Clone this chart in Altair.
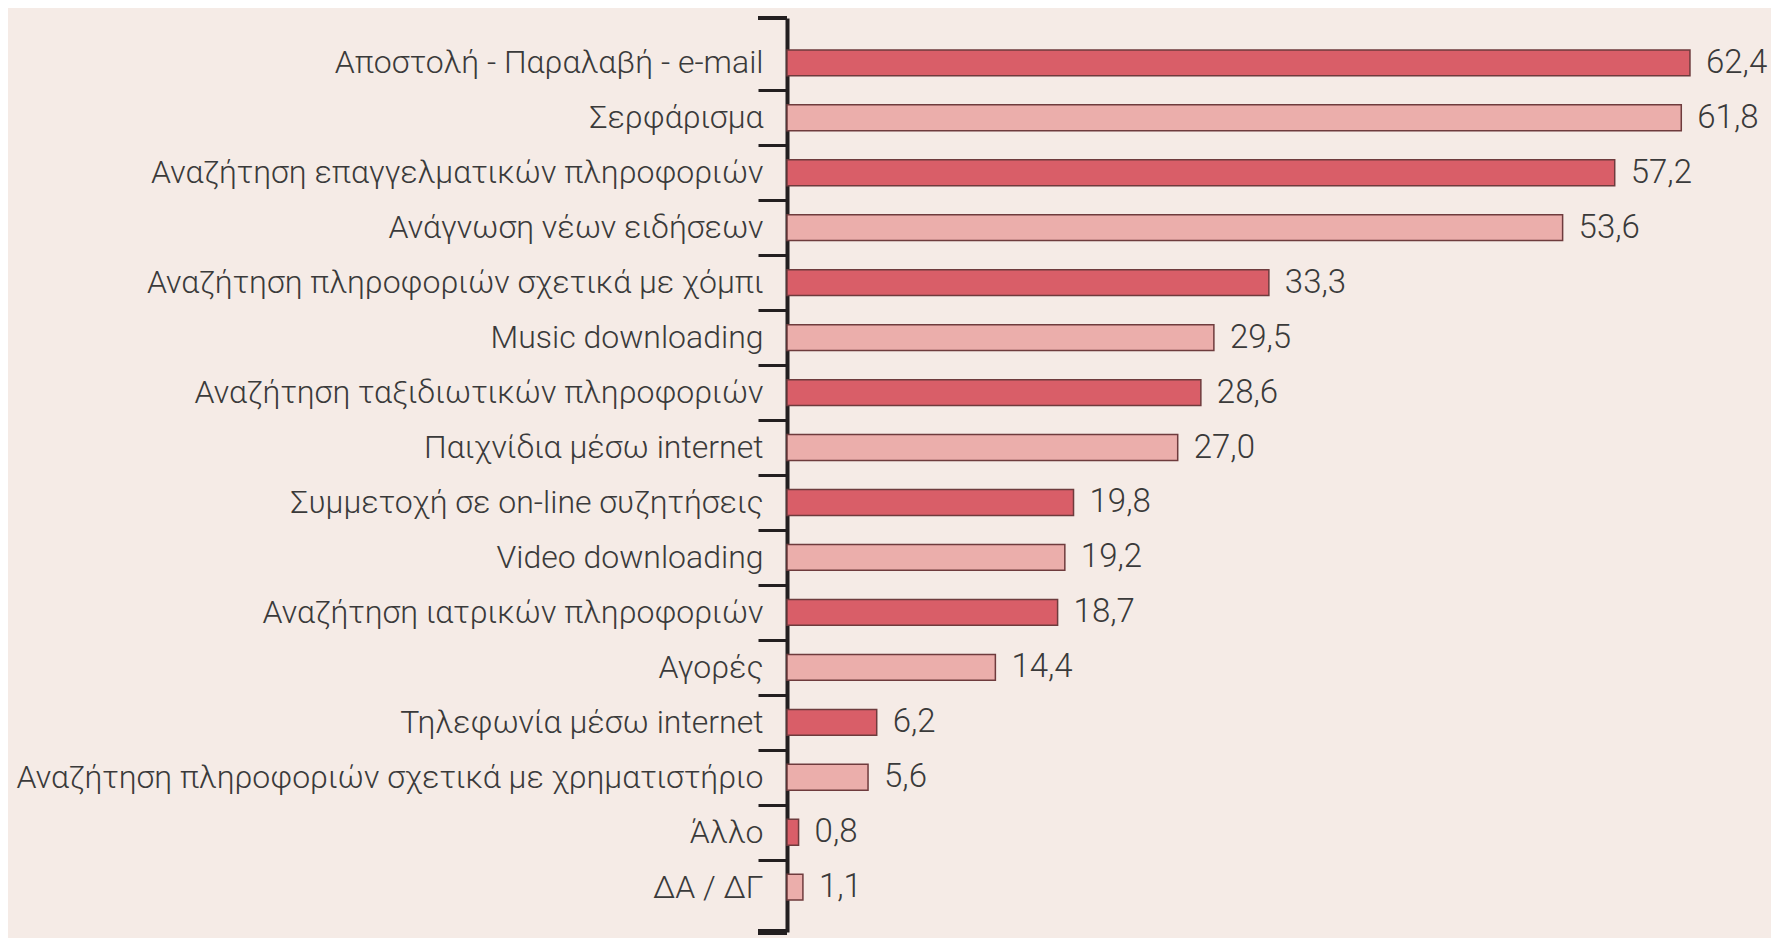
import altair as alt
import pandas as pd

categories = [
    "Αποστολή - Παραλαβή - e-mail",
    "Σερφάρισμα",
    "Αναζήτηση επαγγελματικών πληροφοριών",
    "Ανάγνωση νέων ειδήσεων",
    "Αναζήτηση πληροφοριών σχετικά με χόμπι",
    "Music downloading",
    "Αναζήτηση ταξιδιωτικών πληροφοριών",
    "Παιχνίδια μέσω internet",
    "Συμμετοχή σε on-line συζητήσεις",
    "Video downloading",
    "Αναζήτηση ιατρικών πληροφοριών",
    "Αγορές",
    "Τηλεφωνία μέσω internet",
    "Αναζήτηση πληροφοριών σχετικά με χρηματιστήριο",
    "Άλλο",
    "ΔΑ / ΔΓ",
]
values = [62.4, 61.8, 57.2, 53.6, 33.3, 29.5, 28.6, 27.0, 19.8, 19.2, 18.7, 14.4, 6.2, 5.6, 0.8, 1.1]
shades = ["dark", "light"] * 8

df = pd.DataFrame({
    "cat": categories,
    "val": values,
    "shade": shades,
    "label": [f"{v:.1f}".replace(".", ",") for v in values],
})

FONT = "Roboto"
TXT = "#3a3a3a"
AX = "#231f20"

y_enc = alt.Y(
    "cat:N",
    sort=categories,
    title=None,
    scale=alt.Scale(paddingInner=0.53, paddingOuter=0.58),
    axis=alt.Axis(
        labelFont=FONT,
        labelFontSize=32,
        labelFontWeight=300,
        labelColor=TXT,
        labelLimit=0,
        labelPadding=-5,
        tickSize=29,
        tickWidth=3,
        tickColor=AX,
        tickOffset=-27.5,
        labelOffset=27.5,
        tickOpacity={"condition": {"test": f"datum.value == '{categories[0]}'", "value": 0}, "value": 1},
        domainColor=AX,
        domainWidth=4,
    ),
)

bars = alt.Chart(df).mark_bar(stroke="#6e3b3d", strokeWidth=1.5).encode(
    y=y_enc,
    x=alt.X("val:Q", scale=alt.Scale(domain=[0, 68], nice=False), axis=None),
    color=alt.Color(
        "shade:N",
        scale=alt.Scale(domain=["dark", "light"], range=["#d95e68", "#ebaeab"]),
        legend=None,
    ),
)

texts = alt.Chart(df).mark_text(
    align="left", baseline="middle", dx=16, font=FONT, fontSize=33, fontWeight=300, color=TXT
).encode(
    y=alt.Y("cat:N", sort=categories),
    x=alt.X("val:Q"),
    text="label:N",
)

cap_top = alt.Chart(df).mark_rule(color=AX, strokeWidth=4).encode(
    x=alt.value(-29), x2=alt.value(0), y=alt.value(0)
)
cap_bot = alt.Chart(df).mark_rule(color=AX, strokeWidth=5).encode(
    x=alt.value(-29), x2=alt.value(0), y=alt.value(914)
)

chart = (
    alt.layer(bars, texts, cap_top, cap_bot)
    .properties(
        width=984,
        height=914,
        background="#f5ebe6",
        padding={"left": 779, "top": 10, "right": 0, "bottom": 6},
        autosize=alt.AutoSizeParams(type="none"),
    )
    .configure_view(stroke=None)
)

chart.save("out.html", embed_options={"renderer": "svg", "actions": False})
